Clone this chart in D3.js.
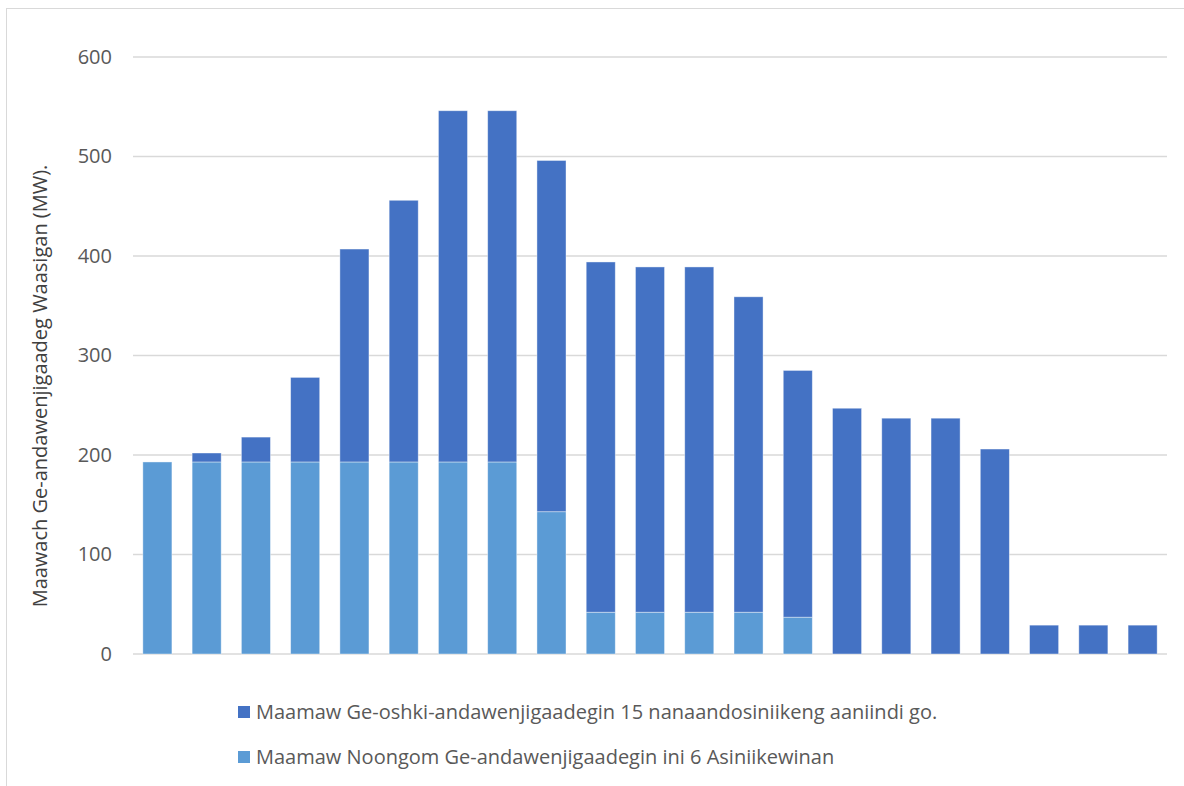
<!DOCTYPE html>
<html><head><meta charset="utf-8">
<script src="https://cdn.jsdelivr.net/npm/d3@7/dist/d3.min.js"></script>
<style>body{margin:0;background:#fff}svg{display:block}text{font-family:"Open Sans","Noto Sans",sans-serif}</style>
</head><body><svg id="c" width="1184" height="786"></svg>
<script>
const categories = d3.range(1, 22).map(String);
const currentValues = [193,193,193,193,193,193,193,193,143,42,42,42,42,37,0,0,0,0,0,0,0];
const newValues = [0,9,25,85,214,263,353,353,353,352,347,347,317,248,247,237,237,206,29,29,29];
const yTicks = [0,100,200,300,400,500,600];
const seriesNames = ["Maamaw Ge-oshki-andawenjigaadegin 15 nanaandosiniikeng aaniindi go.",
                     "Maamaw Noongom Ge-andawenjigaadegin ini 6 Asiniikewinan"];
const yLabel = "Maawach Ge-andawenjigaadeg Waasigan (MW).";

const svg = d3.select("#c");
const m = {l:133, r:1167, t:57, b:654};
const x = d3.scaleBand().domain(categories).range([m.l, m.r]).paddingInner(0.41).paddingOuter(0.2);
const y = d3.scaleLinear().domain([0,600]).range([m.b, m.t]);

// border
svg.append("line").attr("x1",6.5).attr("x2",6.5).attr("y1",8).attr("y2",786).attr("stroke","#d9d9d9");
svg.append("line").attr("x1",6).attr("x2",1184).attr("y1",8.5).attr("y2",8.5).attr("stroke","#d9d9d9");

// grid
svg.append("g").selectAll("line").data(yTicks).join("line")
  .attr("x1",m.l).attr("x2",m.r).attr("y1",d=>y(d)).attr("y2",d=>y(d))
  .attr("stroke","#d9d9d9").attr("stroke-width",1.5);

// y axis labels
const ax = svg.append("g").attr("transform",`translate(${112},0)`)
  .call(d3.axisLeft(y).tickValues(yTicks).tickSize(0).tickPadding(0));
ax.select(".domain").remove();
ax.selectAll("text").attr("fill","#595959").style("font-size","20px").style("font-family","'Open Sans','Noto Sans',sans-serif");

// stacked data
const data = categories.map((c,i)=>({cat:c, cur:currentValues[i], nw:newValues[i]}));
const stack = d3.stack().keys(["cur","nw"])(data);
const colors = {cur:"#5b9bd5", nw:"#4472c4"};
svg.append("g").selectAll("g").data(stack).join("g").attr("fill",d=>colors[d.key])
  .selectAll("rect").data(d=>d.filter(p=>p[1]-p[0]>0)).join("rect")
  .attr("x",d=>x(d.data.cat)).attr("width",x.bandwidth())
  .attr("y",d=>y(d[1])).attr("height",d=>y(d[0])-y(d[1]))
  .attr("stroke","#ffffff").attr("stroke-opacity",0.5).attr("stroke-width",0.8);

// y label
svg.append("text").attr("transform",`translate(47,386) rotate(-90)`)
  .attr("text-anchor","middle").attr("fill","#404040").style("font-size","20px").text(yLabel);

// legend
const leg = [{name:seriesNames[0], color:colors.nw, y:712},{name:seriesNames[1], color:colors.cur, y:757}];
const lg = svg.append("g").selectAll("g").data(leg).join("g");
lg.append("rect").attr("x",238).attr("y",d=>d.y-6).attr("width",12).attr("height",12).attr("fill",d=>d.color);
lg.append("text").attr("x",256).attr("y",d=>d.y).attr("dy","0.35em").attr("fill","#595959")
  .style("font-size","20px").text(d=>d.name);
</script></body></html>
